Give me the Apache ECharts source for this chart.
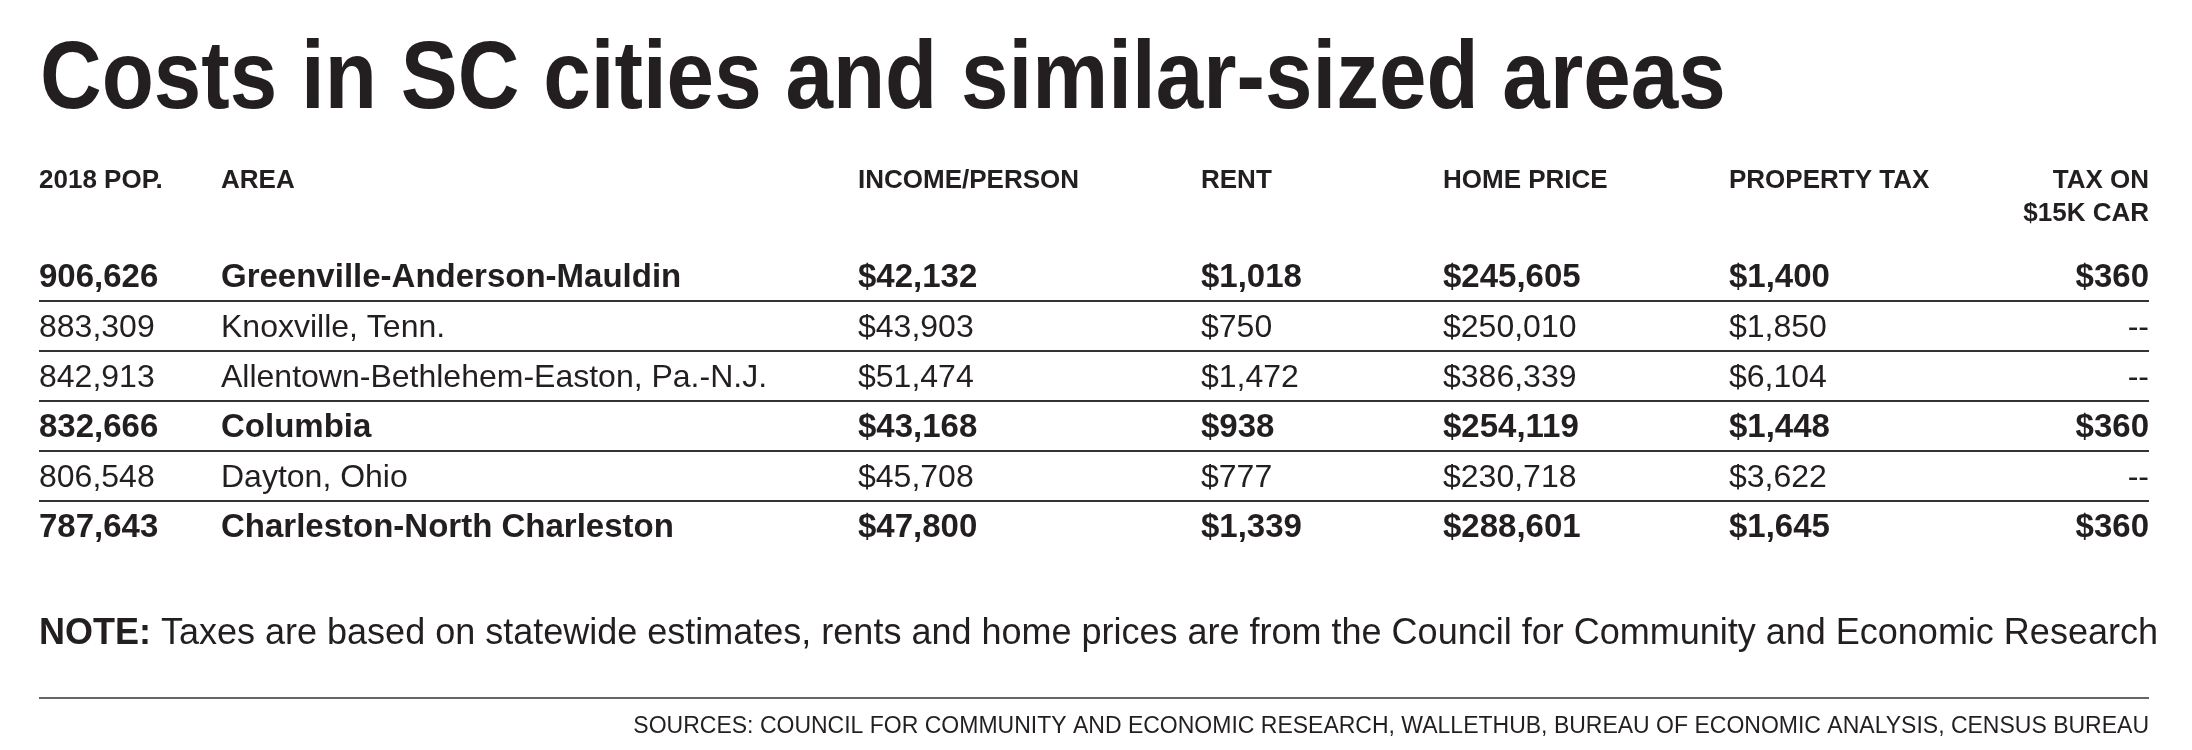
<!DOCTYPE html>
<html>
<head>
<meta charset="utf-8">
<script src="https://cdn.jsdelivr.net/npm/echarts@6/dist/echarts.min.js"></script>
<style>
  html, body { margin: 0; padding: 0; background: #fff; }
  #main { width: 2192px; height: 750px; }
</style>
</head>
<body>
<div id="main"></div>
<script>
// table data
var headers = ['2018 POP.', 'AREA', 'INCOME/PERSON', 'RENT', 'HOME PRICE', 'PROPERTY TAX', 'TAX ON\n$15K CAR'];
var population = ['906,626', '883,309', '842,913', '832,666', '806,548', '787,643'];
var areas = ['Greenville-Anderson-Mauldin', 'Knoxville, Tenn.', 'Allentown-Bethlehem-Easton, Pa.-N.J.', 'Columbia', 'Dayton, Ohio', 'Charleston-North Charleston'];
var income = ['$42,132', '$43,903', '$51,474', '$43,168', '$45,708', '$47,800'];
var rent = ['$1,018', '$750', '$1,472', '$938', '$777', '$1,339'];
var homePrice = ['$245,605', '$250,010', '$386,339', '$254,119', '$230,718', '$288,601'];
var propertyTax = ['$1,400', '$1,850', '$6,104', '$1,448', '$3,622', '$1,645'];
var carTax = ['$360', '--', '--', '$360', '--', '$360'];
var boldRows = [true, false, false, true, false, true];

var chart = echarts.init(document.getElementById('main'));

var colX = [39, 221, 858, 1201, 1443, 1729, 2149];
var rowY = [278, 328, 378, 428, 478, 528];
var lineY = [301, 351, 401, 451, 501];
var ink = '#231f20';
var narrow = '"Liberation Sans Narrow", "Liberation Sans", sans-serif';

var g = [];
// title, squeezed horizontally to look condensed
g.push({
  type: 'text', x: 36, y: 34, scaleX: 0.89, originX: 36,
  style: { text: 'Costs in SC cities and similar-sized areas', font: 'bold 96px ' + narrow, fill: ink }
});

headers.forEach(function (h, i) {
  var last = i === headers.length - 1;
  g.push({
    type: 'text', x: colX[i], y: 164,
    style: { text: h, font: 'bold 26px ' + narrow, fill: ink, align: last ? 'right' : 'left', lineHeight: 33 }
  });
});

var cols = [population, areas, income, rent, homePrice, propertyTax, carTax];
rowY.forEach(function (y, r) {
  var b = boldRows[r];
  cols.forEach(function (c, i) {
    var last = i === cols.length - 1;
    g.push({
      type: 'text', x: colX[i], y: y,
      style: {
        text: c[r], fill: ink, align: last ? 'right' : 'left', verticalAlign: 'middle',
        font: (b ? 'bold 33px ' : '32px ') + narrow
      }
    });
  });
});

lineY.forEach(function (y) {
  g.push({ type: 'line', shape: { x1: 39, y1: y, x2: 2149, y2: y }, style: { stroke: '#333', lineWidth: 2 } });
});

g.push({
  type: 'text', x: 39, y: 634,
  style: {
    text: '{b|NOTE:} Taxes are based on statewide estimates, rents and home prices are from the Council for Community and Economic Research',
    verticalAlign: 'middle', fill: ink, font: '36px ' + narrow,
    rich: { b: { font: 'bold 36px ' + narrow, fill: ink } }
  }
});
g.push({ type: 'line', shape: { x1: 39, y1: 698, x2: 2149, y2: 698 }, style: { stroke: '#333', lineWidth: 1.5 } });
g.push({
  type: 'text', x: 2149, y: 727,
  style: {
    text: 'SOURCES: COUNCIL FOR COMMUNITY AND ECONOMIC RESEARCH, WALLETHUB, BUREAU OF ECONOMIC ANALYSIS, CENSUS BUREAU',
    align: 'right', verticalAlign: 'middle', fill: ink, font: '23px ' + narrow
  }
});

var option = { backgroundColor: '#fff', graphic: g };
if (option && typeof option === 'object') {
  chart.setOption(option);
}
window.addEventListener('resize', chart.resize);
</script>
</body>
</html>
